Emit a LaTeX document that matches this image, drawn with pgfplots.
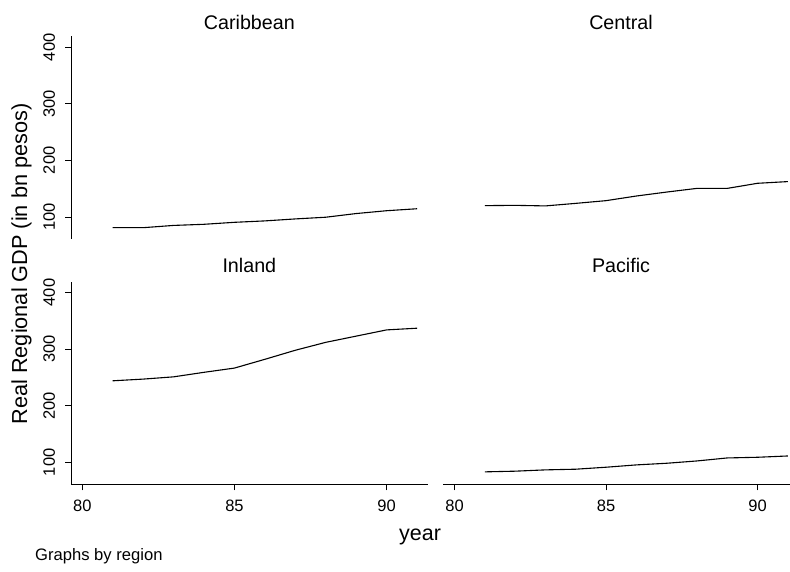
\documentclass[border=0pt]{standalone}
\usepackage{fontspec}
\setmainfont{Liberation Sans}
\usepackage{pgfplots}
\usepackage{pgfplotstable}
\pgfplotsset{compat=1.18}

\pgfplotstableread{
year car cen inl pac
81 81 120 244 83
82 81 120.5 247 84.2
83 85 119.5 251 86.5
84 87 124 259 87.7
85 90.5 128.8 266.5 91.2
86 93 137 282 95.3
87 96.5 144 298 98.2
88 99.5 150.5 312 102.3
89 106 150.5 323 107.6
90 111 159.5 334 108.8
91 114.5 162.5 337 111.1
}\data

\pgfplotsset{
  panel/.style={
    scale only axis, height=202.7pt,
    ymin=61, ymax=419.4, xmin=79.63,
    ytick={100,200,300,400}, xtick={80,85,90},
    minor tick num=0,
    tick align=outside, major tick length=6pt,
    tick style={black, line width=0.8pt},
    axis line style={black, line width=0.8pt, -},
    every tick label/.append style={font=\fontsize{16.5}{18}\selectfont, inner sep=0pt},
    yticklabel style={rotate=90, anchor=south, outer sep=10pt},
    xticklabel style={anchor=north},
    xticklabel shift=9.4pt,
    /pgf/number format/assume math mode=true,
    title style={font=\fontsize{19.7}{22}\selectfont, inner sep=0pt, anchor=base},
    clip=false,
  },
  leftp/.style={width=356.7pt, xmax=91.35, axis y line*=left},
  rightp/.style={width=346.7pt, xmax=91.07, axis y line=none, ytick=\empty},
  topp/.style={axis x line=none, xtick=\empty},
  botp/.style={axis x line*=bottom},
  gdp/.style={black, line width=1.1pt, no marks},
}

\begin{document}
\begin{tikzpicture}[x=1pt,y=1pt]
\useasboundingbox (0,0) rectangle (790,571);

\begin{axis}[panel, leftp, topp, at={(71pt,332pt)}, anchor=south west,
  title={Caribbean}, title style={at={(axis description cs:0.5,1)}, yshift=0.7pt}]
\addplot[gdp] table[x=year, y=car] {\data};
\end{axis}

\begin{axis}[panel, rightp, topp, at={(443.3pt,332pt)}, anchor=south west,
  title={Central}, title style={at={(axis description cs:0.5126,1)}, yshift=0.7pt}]
\addplot[gdp] table[x=year, y=cen] {\data};
\end{axis}

\begin{axis}[panel, leftp, botp, at={(71pt,86.7pt)}, anchor=south west,
  title={Inland}, title style={at={(axis description cs:0.5,1)}, yshift=3pt}]
\addplot[gdp] table[x=year, y=inl] {\data};
\end{axis}

\begin{axis}[panel, rightp, botp, at={(443.3pt,86.7pt)}, anchor=south west,
  title={Pacific}, title style={at={(axis description cs:0.5126,1)}, yshift=3pt}]
\addplot[gdp] table[x=year, y=pac] {\data};
\end{axis}

\node[rotate=90, anchor=base, inner sep=0pt, font=\fontsize{21.7}{24}\selectfont] at (27,307) {Real Regional GDP (in bn pesos)};
\node[anchor=base, inner sep=0pt, font=\fontsize{21.5}{24}\selectfont] at (420,31) {year};
\node[anchor=base west, inner sep=0pt, font=\fontsize{16.6}{18}\selectfont] at (35,10.5) {Graphs by region};
\end{tikzpicture}
\end{document}
